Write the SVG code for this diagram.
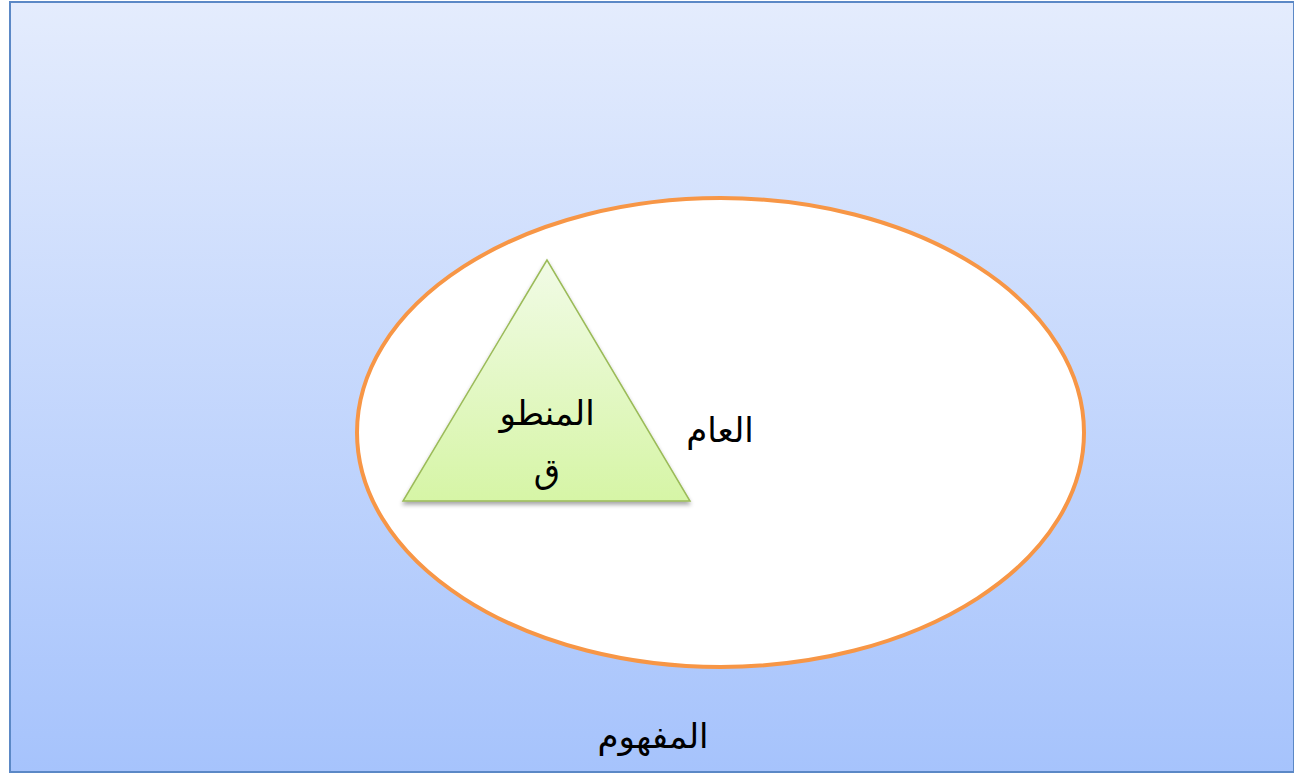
<svg xmlns="http://www.w3.org/2000/svg" width="1294" height="774" viewBox="0 0 1294 774">
<defs>
<linearGradient id="bg" x1="0" y1="0" x2="0" y2="1">
<stop offset="0" stop-color="#E4ECFD"/>
<stop offset="1" stop-color="#A6C3FC"/>
</linearGradient>
<linearGradient id="tri" x1="0" y1="0" x2="0" y2="1">
<stop offset="0" stop-color="#F1FBE6"/>
<stop offset="1" stop-color="#D6F5A6"/>
</linearGradient>
<filter id="sh" x="-10%" y="-10%" width="120%" height="120%">
<feGaussianBlur in="SourceAlpha" stdDeviation="2"/>
<feOffset dx="0" dy="3"/>
<feComponentTransfer><feFuncA type="linear" slope="0.35"/></feComponentTransfer>
<feMerge><feMergeNode/><feMergeNode in="SourceGraphic"/></feMerge>
</filter>
</defs>
<style>
.t{font-family:"DejaVu Sans","Noto Sans",sans-serif;font-size:34px;fill:#000;text-anchor:middle}
</style>
<rect width="1294" height="774" fill="#FFFFFF"/>
<g id="outer">
<rect x="10" y="2" width="1284" height="770" fill="url(#bg)" stroke="#5B88C6" stroke-width="2"/>
<text class="t" x="653" y="748">المفهوم</text>
</g>
<g id="ellipse">
<ellipse cx="720.5" cy="432.5" rx="363.5" ry="234.5" fill="#FFFFFF" stroke="#F79646" stroke-width="4"/>
<text class="t" x="720" y="442">العام</text>
</g>
<g id="triangle">
<polygon points="547,260 403,501 690,501" fill="url(#tri)" stroke="#9BBB59" stroke-width="1.5" filter="url(#sh)"/>
<text class="t" x="547" y="425">المنطو</text>
<text class="t" x="547" y="483">ق</text>
</g>
<g id="connectors"/>
</svg>
